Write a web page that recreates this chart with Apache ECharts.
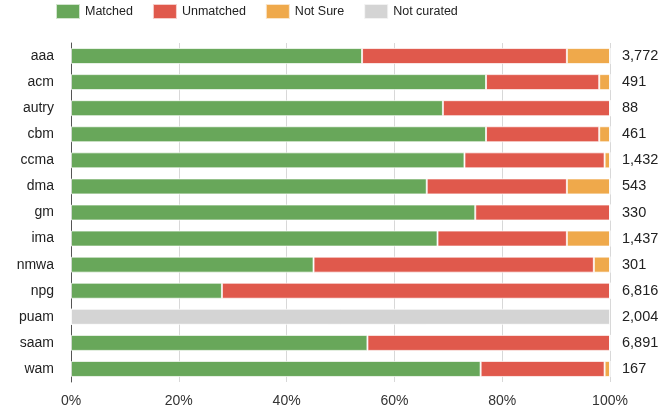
<!DOCTYPE html>
<html><head><meta charset="utf-8">
<script src="https://cdn.jsdelivr.net/npm/echarts@6/dist/echarts.min.js"></script>
<style>html,body{margin:0;padding:0;background:#fff}#c{width:664px;height:414px}</style>
</head><body><div id="c"></div>
<script>
const categories = ['aaa','acm','autry','cbm','ccma','dma','gm','ima','nmwa','npg','puam','saam','wam'];
const totals = ['3,772','491','88','461','1,432','543','330','1,437','301','6,816','2,004','6,891','167'];
const matched    = [54, 77, 69, 77, 73, 66, 75, 68, 45, 28, 0, 55, 76];
const unmatched  = [38, 21, 31, 21, 26, 26, 25, 24, 52, 72, 0, 45, 23];
const notSure    = [8, 2, 0, 2, 1, 8, 0, 8, 3, 0, 0, 0, 1];
const notCurated = [0, 0, 0, 0, 0, 0, 0, 0, 0, 0, 100, 0, 0];
const xTicks = [0, 20, 40, 60, 80, 100];

const font = '"Liberation Sans", Arial, Helvetica, sans-serif';
const chart = echarts.init(document.getElementById('c'), null, {renderer: 'canvas'});
const mk = (name, data, color) => ({
  name, type: 'bar', stack: 'a', data, barWidth: 16,
  itemStyle: {color, borderColor: 'rgba(255,255,255,0.7)', borderWidth: 1},
  emphasis: {disabled: true}
});
chart.setOption({
  animation: false,
  textStyle: {fontFamily: font},
  legend: {
    left: 55, top: 3, padding: 0, itemWidth: 24, itemHeight: 15, itemGap: 19,
    icon: 'rect',
    textStyle: {fontSize: 12.5, color: '#222', fontFamily: font},
    data: ['Matched', 'Unmatched', 'Not Sure', 'Not curated']
  },
  grid: {left: 71, right: 54, top: 43, bottom: 32},
  xAxis: {
    type: 'value', min: xTicks[0], max: xTicks[xTicks.length - 1], interval: 20,
    axisLabel: {formatter: '{value}%', fontSize: 14, color: '#333', margin: 12, fontFamily: font},
    axisLine: {show: false}, axisTick: {show: false},
    splitLine: {lineStyle: {color: '#d8d8d8', width: 1}}
  },
  yAxis: [{
    type: 'category', data: categories, inverse: true,
    axisLine: {show: true, lineStyle: {color: '#555', width: 1}},
    axisTick: {show: false},
    axisLabel: {fontSize: 14, color: '#222', margin: 17, fontFamily: font}
  }, {
    type: 'category', data: totals, inverse: true, position: 'right',
    axisLine: {show: false}, axisTick: {show: false},
    axisLabel: {fontSize: 14.5, color: '#222', margin: 12, fontFamily: font}
  }],
  series: [
    mk('Matched', matched, '#68a75a'),
    mk('Unmatched', unmatched, '#e0594c'),
    mk('Not Sure', notSure, '#efa94b'),
    mk('Not curated', notCurated, '#d4d4d4')
  ]
});
</script></body></html>
